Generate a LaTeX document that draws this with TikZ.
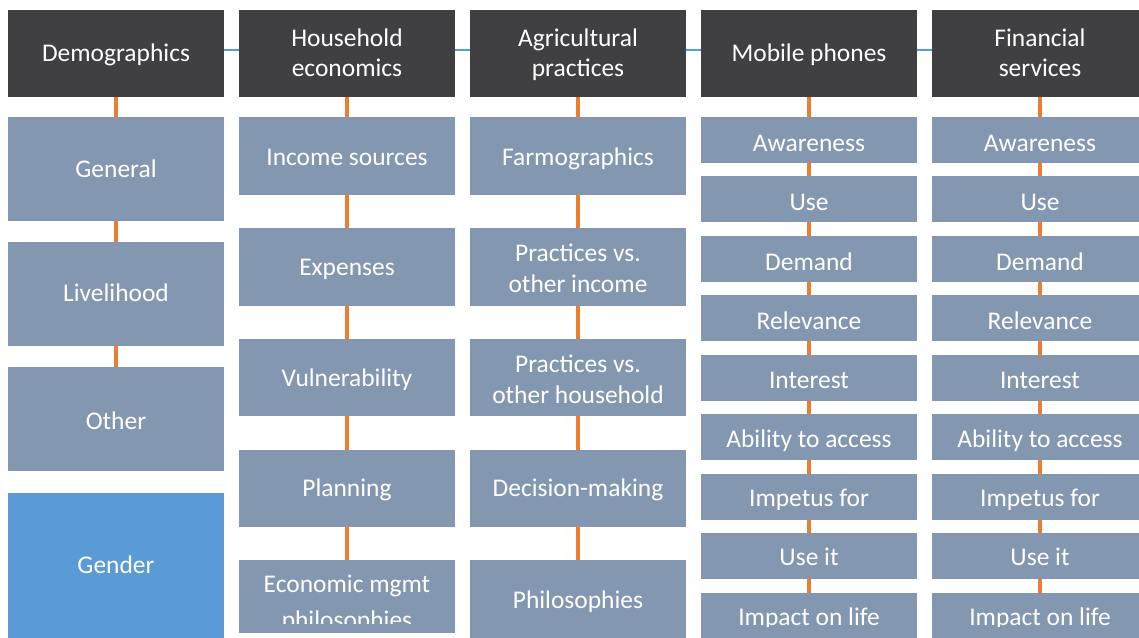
\documentclass[tikz,border=0pt]{standalone}
\usepackage{fontspec}
\setmainfont{Carlito}
\usetikzlibrary{backgrounds}

\definecolor{hdrgray}{RGB}{64,64,66}
\definecolor{itemblue}{RGB}{132,151,176}
\definecolor{accentblue}{RGB}{91,155,213}
\definecolor{linkorange}{RGB}{237,125,49}

\newdimen\pxu \pxu=0.75pt
% two centred lines whose reference point is the first baseline
\newcommand{\stacktwo}[2]{\vtop{\halign{\hfil##\hfil\cr #1\cr #2\cr}}}

\begin{document}
\begin{tikzpicture}[x=0.75pt, y=-0.75pt,
  every node/.style={inner sep=0pt, outer sep=0pt},
  tile/.style={rectangle, minimum width=216\pxu, fill=itemblue},
  headtile/.style={tile, fill=hdrgray, minimum height=86.7\pxu},
  bigtile/.style={tile, minimum height=104\pxu},
  midtile/.style={tile, minimum height=77.7\pxu},
  smalltile/.style={tile, minimum height=46\pxu},
  boxtext/.style={anchor=base, text=white, font=\fontsize{19.1}{23}\selectfont},
  vlink/.style={draw=linkorange, line width=3pt},
  hlink/.style={draw=accentblue, line width=1.9pt}]

\useasboundingbox (0,0) rectangle (1139,637);
\clip (0,0) rectangle (1139,637);

% ---- column headers
\node[headtile] (h1) at (116,53.3) {};
\node[headtile] (h2) at (347,53.3) {};
\node[headtile] (h3) at (578,53.3) {};
\node[headtile] (h4) at (809,53.3) {};
\node[headtile] (h5) at (1040,53.3) {};
\node[boxtext] (t1) at (116,61) {Demographics};
\node[boxtext] (t2) at (347,46) {\stacktwo{Household}{economics}};
\node[boxtext] (t3) at (578,46) {\stacktwo{Agricultural}{practices}};
\node[boxtext] (t4) at (809,61.5) {Mobile phones};
\node[boxtext] (t5) at (1040,46) {\stacktwo{Financial}{services}};

% ---- demographics
\node[bigtile] (a1) at (116,168.7) {};
\node[bigtile] (a2) at (116,293.9) {};
\node[bigtile] (a3) at (116,419.2) {};
\node[tile, fill=accentblue, minimum height=157\pxu] (a4) at (116,571.5) {};
\node[boxtext] at (116,177.7) {General};
\node[boxtext] at (116,301.7) {Livelihood};
\node[boxtext] at (116,429) {Other};
\node[boxtext] at (116,573.3) {Gender};

% ---- household economics
\node[midtile] (b1) at (347,155.9) {};
\node[midtile] (b2) at (347,266.9) {};
\node[midtile] (b3) at (347,377.4) {};
\node[midtile] (b4) at (347,488.5) {};
\node[tile, minimum height=73\pxu] (b5) at (347,596.5) {};
\node[boxtext] at (347,165) {Income sources};
\node[boxtext] at (347,275) {Expenses};
\node[boxtext] at (347,386.7) {Vulnerability};
\node[boxtext] at (347,496.7) {Planning};
\begin{scope}
  \clip (239,560) rectangle (455,623.3);
  \node[boxtext, font=\fontsize{19.1}{26.5}\selectfont] at (347,592.7)
    {\stacktwo{Economic mgmt}{philosophies}};
\end{scope}

% ---- agricultural practices
\node[midtile] (c1) at (578,155.9) {};
\node[midtile] (c2) at (578,266.9) {};
\node[midtile] (c3) at (578,377.4) {};
\node[midtile] (c4) at (578,488.5) {};
\node[midtile] (c5) at (578,598.9) {};
\node[boxtext] at (578,165) {Farmographics};
\node[boxtext] at (578,261.7) {\stacktwo{Practices vs.}{other income}};
\node[boxtext] at (578,372.7) {\stacktwo{Practices vs.}{other household}};
\node[boxtext] at (578,496.7) {Decision-making};
\node[boxtext] at (578,608.3) {Philosophies};

% ---- mobile phones and financial services share the same item list
\foreach \cx/\pre in {809/d, 1040/e} {
  \foreach \k/\txt/\base in {0/Awareness/151.7, 1/Use/210.7, 2/Demand/270,
      3/Relevance/329.3, 4/Interest/388.3, 5/Ability to access/447.7,
      7/Use it/565.7} {
    \node[smalltile] (\pre\k) at (\cx,139.7+59.5*\k) {};
    \node[boxtext] at (\cx,\base) {\txt};
  }
  \node[smalltile] (\pre6) at (\cx,496.7) {};
  \node[smalltile] (\pre8) at (\cx,615.7) {};
  \begin{scope}
    \clip (\cx-108,473.7) rectangle (\cx+108,509.3);
    \node[boxtext] at (\cx,506.7) {Impetus for};
  \end{scope}
  \begin{scope}
    \clip (\cx-108,592.7) rectangle (\cx+108,626.7);
    \node[boxtext] at (\cx,625) {Impact on life};
  \end{scope}
}

% ---- connectors behind the tiles
\begin{pgfonlayer}{background}
  \draw[hlink] ([yshift=2.5pt]h1.east) -- ([yshift=2.5pt]h2.west);
  \draw[hlink] ([yshift=2.5pt]h2.east) -- ([yshift=2.5pt]h3.west);
  \draw[hlink] ([yshift=2.5pt]h3.east) -- ([yshift=2.5pt]h4.west);
  \draw[hlink] ([yshift=2.5pt]h4.east) -- ([yshift=2.5pt]h5.west);

  \draw[vlink] (h1) -- (a1);
  \draw[vlink] (a1) -- (a2);
  \draw[vlink] (a2) -- (a3);

  \draw[vlink] (h2) -- (b1);
  \draw[vlink] (b1) -- (b2);
  \draw[vlink] (b2) -- (b3);
  \draw[vlink] (b3) -- (b4);
  \draw[vlink] (b4) -- (b5);

  \draw[vlink] (h3) -- (c1);
  \draw[vlink] (c1) -- (c2);
  \draw[vlink] (c2) -- (c3);
  \draw[vlink] (c3) -- (c4);
  \draw[vlink] (c4) -- (c5);

  \draw[vlink] (h4) -- (d0);
  \draw[vlink] (h5) -- (e0);
  \foreach \i [evaluate=\i as \j using int(\i+1)] in {0,...,7} {
    \draw[vlink] (d\i) -- (d\j);
    \draw[vlink] (e\i) -- (e\j);
  }
\end{pgfonlayer}
\end{tikzpicture}
\end{document}
